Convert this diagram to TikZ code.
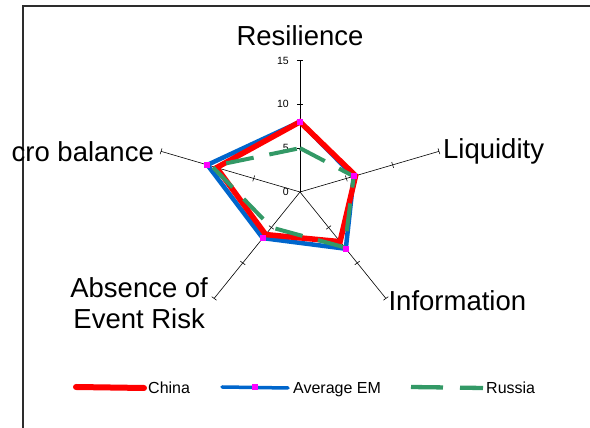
\documentclass[tikz,border=0pt]{standalone}
\usepackage{fontspec}
\setmainfont{Liberation Sans}
\usepackage{xcolor}
\usepackage{tikz}
\usetikzlibrary{positioning}

\definecolor{chinared}{RGB}{255,0,0}
\definecolor{emblue}{RGB}{0,102,204}
\definecolor{russiagreen}{RGB}{51,153,102}
\definecolor{markmag}{RGB}{255,0,255}
\definecolor{framegrey}{RGB}{45,45,45}

\tikzset{
  axis/.style={black, line width=0.6pt},
  axislabel/.style={font=\fontsize{27.5}{31}\selectfont, inner sep=0pt},
  scalelabel/.style={font=\fontsize{10.5}{12}\selectfont, anchor=east, inner sep=0pt},
  chinaline/.style={chinared, line width=5.5pt, line join=miter},
  emline/.style={emblue, line width=4.5pt, line join=miter},
  russialine/.style={russiagreen, line width=4pt, dash pattern=on 28pt off 16pt},
  emmark/.style={rectangle, fill=markmag, minimum size=6pt, inner sep=0pt},
  legendtext/.style={font=\fontsize{16}{18}\selectfont, anchor=west, inner sep=0pt,
    text height=11.5pt, text depth=0pt},
}

\begin{document}
\begin{tikzpicture}[x=1pt, y=1pt]
  \useasboundingbox (0,0) rectangle (590,428);
  \draw[framegrey, line width=2pt] (22.7,-5) -- (22.7,421.5) -- (600,421.5);

  % spider chart
  \begin{scope}[shift={(300,236)}, x=9.74pt, y=8.77pt]
    \coordinate (o) at (0,0);
    \coordinate (res) at (90:15);
    \coordinate (liq) at (18:15);
    \coordinate (info) at (-54:15);
    \coordinate (risk) at (-126:15);
    \coordinate (macro) at (162:15);
    \foreach \e/\a in {res/90, liq/18, info/-54, risk/-126, macro/162} {
      \draw[axis] (o) -- (\e);
      \foreach \r in {5,10,15}
        \draw[axis] (\a:\r) ++(\a+90:3pt) -- ++(\a-90:6pt);
    }
    \foreach \v in {0,5,10,15}
      \node[scalelabel, xshift=-11pt] (scale-\v) at (0,\v) {\v};

    \foreach \n/\v in {1/8, 2/6, 3/7, 4/6, 5/9}
      \coordinate (china-\n) at ({90-72*(\n-1)}:\v);
    \foreach \n/\v in {1/8, 2/5.8, 3/8, 4/6.5, 5/10}
      \coordinate (em-\n) at ({90-72*(\n-1)}:\v);
    \foreach \n/\v in {1/5, 2/5.8, 3/7.8, 4/5, 5/9.5}
      \coordinate (russia-\n) at ({90-72*(\n-1)}:\v);

    \draw[emline] (em-1) -- (em-2) -- (em-3) -- (em-4) -- (em-5) -- cycle;
    \draw[chinaline] (china-1) -- (china-2) -- (china-3) -- (china-4) -- (china-5) -- cycle;
    \draw[russialine] (russia-1) -- (russia-2) -- (russia-3) -- (russia-4) -- (russia-5) -- cycle;
    \foreach \n in {1,...,5}
      \node[emmark] (em-mark-\n) at (em-\n) {};
  \end{scope}

  % axis names
  \node[axislabel, above=14pt of res] (res-label) {Resilience};
  \node[axislabel, right=4pt of liq] (liq-label) {Liquidity};
  \node[axislabel, right=2.5pt of info, yshift=-2pt] (info-label) {Information};
  \node[axislabel, left=6pt of risk, yshift=-4.5pt, align=center] (risk-label) {Absence of\\Event Risk};
  \node[axislabel, left=7pt of macro] (macro-label) {cro balance};

  % legend
  \node[legendtext] (china-key) at (148,40) {China};
  \node[legendtext] (em-key) at (293,40) {Average EM};
  \node[legendtext] (russia-key) at (486,40) {Russia};
  \draw[chinared, line width=6pt, line cap=round] (76,41) -- ([xshift=-4pt]china-key.west);
  \draw[emblue, line width=3.5pt, line cap=round] (222,41) -- ([xshift=-5pt]em-key.west);
  \node[emmark] (em-key-mark) at (255,41) {};
  \draw[russiagreen, line width=4.3pt, dash pattern=on 32pt off 17pt] (411,41) -- ([xshift=-3pt]russia-key.west);
\end{tikzpicture}
\end{document}
